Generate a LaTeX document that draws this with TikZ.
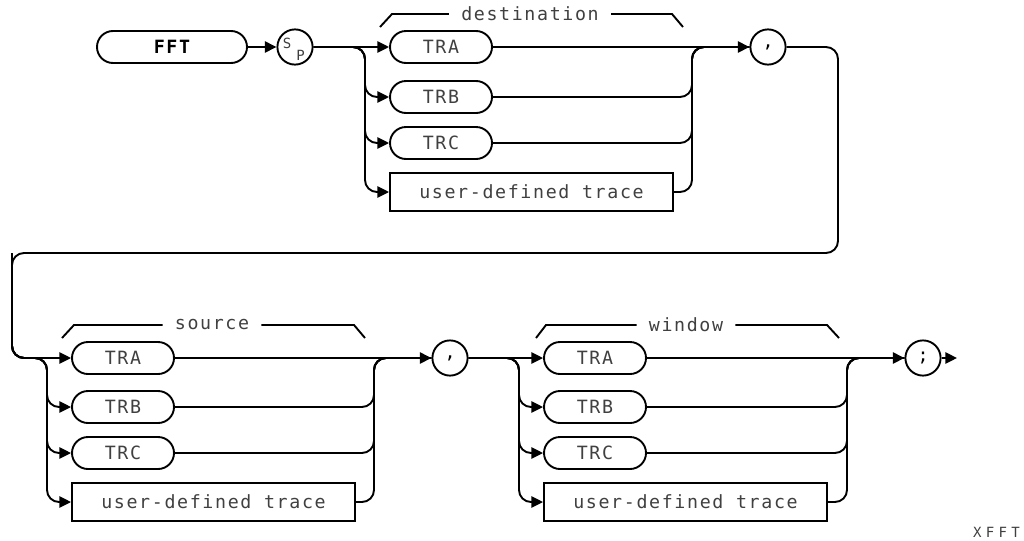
\documentclass[tikz,border=0pt]{standalone}
\usepackage{fontspec}
\newfontfamily\hpfont[LetterSpace=9]{DejaVu Sans Mono}
\newfontfamily\hpwide[LetterSpace=30]{DejaVu Sans Mono}
\usetikzlibrary{arrows.meta, shapes.misc}

\newcommand\hptext{\hpfont\fontsize{13}{15}\selectfont}
\newcommand\hpsmall{\hpfont\fontsize{10}{11}\selectfont}

\tikzset{
  line/.style={line width=1.35pt},
  arr/.style={line, -{Triangle[length=2.9mm,width=2.8mm]}},
  curve/.style={rounded corners=3mm},
  pill/.style={draw, line width=1.35pt, rounded rectangle, minimum width=2.55cm,
    minimum height=0.8cm, inner sep=0pt, font=\hptext, text=black!75},
  usrbox/.style={draw, line width=1.35pt, rectangle, minimum width=7.075cm,
    minimum height=0.95cm, inner sep=0pt, font=\hptext, text=black!75},
  sym/.style={draw, line width=1.35pt, circle, minimum size=0.88cm, inner sep=0pt,
    font=\hptext},
  grp/.style={font=\hptext, text=black!75, inner xsep=3mm, inner ysep=0pt}
}

\begin{document}
\begin{tikzpicture}[x=0.25mm, y=-0.25mm]
  \useasboundingbox (0,0) rectangle (1024,540);
  % ---------- keyword ----------
  \node[pill, minimum width=3.75cm, font=\hptext\bfseries, text=black] (fft) at (172,47) {FFT};
  \node[sym] (sp) at (295,47) {};
  \node[font=\hpsmall, text=black!75, inner sep=0pt, xshift=-2mm, yshift=0.9mm] (spS) at (sp) {S};
  \node[font=\hpsmall, text=black!75, inner sep=0pt, xshift=1.4mm, yshift=-2.1mm] (spP) at (sp) {P};
  \draw[arr] (fft.east) -- (sp.west);
  % ---------- destination ----------
  \begin{scope}[shift={(390,47)}]
    \node[pill] (dTRA) at (51,0) {TRA};
    \node[pill] (dTRB) at (51,50) {TRB};
    \node[pill] (dTRC) at (51,96) {TRC};
    \node[usrbox] (dUSR) at (141.5,145) {user-defined trace};
    \coordinate (dIn) at (-25,0);
    \coordinate (dOut) at (302,0);
    \node[grp] (dLab) at (140,-33) {destination};
    \draw[line] (-10,-20) -- (2,-33) -- (dLab.west);
    \draw[line] (dLab.east) -- (282,-33) -- (293,-20);
  \end{scope}
  \node[sym] (comma) at (768,47) {,};
  \draw[arr] (sp.east) -- (dTRA.west);
  \draw[arr, curve] (sp.east) -| (dIn |- dTRB) -- (dTRB.west);
  \draw[arr, curve] (sp.east) -| (dIn |- dTRC) -- (dTRC.west);
  \draw[arr, curve] (sp.east) -| (dIn |- dUSR) -- (dUSR.west);
  \draw[arr] (dTRA.east) -- (comma.west);
  \draw[line, curve] (dTRB.east) -| (dOut) -- (comma.west);
  \draw[line, curve] (dTRC.east) -| (dOut) -- (comma.west);
  \draw[line, curve] (dUSR.east) -| (dOut) -- (comma.west);
  % ---------- source ----------
  \begin{scope}[shift={(72,358)}]
    \node[pill] (sTRA) at (51,0) {TRA};
    \node[pill] (sTRB) at (51,49) {TRB};
    \node[pill] (sTRC) at (51,95) {TRC};
    \node[usrbox] (sUSR) at (141.5,144) {user-defined trace};
    \coordinate (sIn) at (-25,0);
    \coordinate (sOut) at (302,0);
    \node[grp] (sLab) at (140,-33) {source};
    \draw[line] (-10,-20) -- (2,-33) -- (sLab.west);
    \draw[line] (sLab.east) -- (282,-33) -- (293,-20);
  \end{scope}
  \coordinate (loopR) at (838,253);
  \coordinate (loopL) at (12,253);
  \node[sym] (comma2) at (450,358) {,};
  \draw[arr, curve] (comma.east) -| (loopR) -- (loopL) |- (sTRA.west);
  \draw[arr, curve] (loopL) |- (sIn) |- (sTRB.west);
  \draw[arr, curve] (loopL) |- (sIn) |- (sTRC.west);
  \draw[arr, curve] (loopL) |- (sIn) |- (sUSR.west);
  \draw[arr] (sTRA.east) -- (comma2.west);
  \draw[line, curve] (sTRB.east) -| (sOut) -- (comma2.west);
  \draw[line, curve] (sTRC.east) -| (sOut) -- (comma2.west);
  \draw[line, curve] (sUSR.east) -| (sOut) -- (comma2.west);
  % ---------- window ----------
  \begin{scope}[shift={(544,358)}]
    \node[pill] (wTRA) at (51,0) {TRA};
    \node[pill] (wTRB) at (51,49) {TRB};
    \node[pill] (wTRC) at (51,95) {TRC};
    \node[usrbox] (wUSR) at (141.5,144) {user-defined trace};
    \coordinate (wIn) at (-25,0);
    \coordinate (wOut) at (303,0);
    \node[grp] (wLab) at (142,-33) {window};
    \draw[line] (-8,-20) -- (2,-33) -- (wLab.west);
    \draw[line] (wLab.east) -- (283,-33) -- (295,-20);
  \end{scope}
  \node[sym] (semi) at (923,358) {;};
  \coordinate (fin) at (957,358);
  \draw[arr] (comma2.east) -- (wTRA.west);
  \draw[arr, curve] (comma2.east) -| (wIn |- wTRB) -- (wTRB.west);
  \draw[arr, curve] (comma2.east) -| (wIn |- wTRC) -- (wTRC.west);
  \draw[arr, curve] (comma2.east) -| (wIn |- wUSR) -- (wUSR.west);
  \draw[arr] (wTRA.east) -- (semi.west);
  \draw[line, curve] (wTRB.east) -| (wOut) -- (semi.west);
  \draw[line, curve] (wTRC.east) -| (wOut) -- (semi.west);
  \draw[line, curve] (wUSR.east) -| (wOut) -- (semi.west);
  \draw[arr] (semi.east) -- (fin);
  \node[font=\hpwide\fontsize{10}{12}\selectfont, text=black!75, anchor=east, inner sep=0pt] (figid) at (1020,532) {XFFT};
\end{tikzpicture}
\end{document}
